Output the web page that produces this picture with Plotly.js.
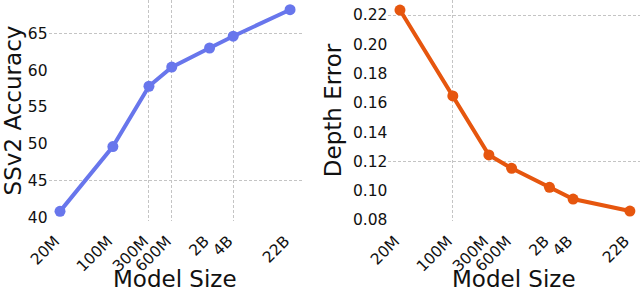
<!DOCTYPE html>
<html>
<head>
<meta charset="utf-8">
<script src="https://cdn.plot.ly/plotly-3.0.1.min.js"></script>
<style>html,body{margin:0;padding:0;background:#fff;}#chart{width:640px;height:291px;}</style>
</head>
<body>
<div id="chart"></div>
<script>
// Model sizes (parameters) and tick labels
var modelSizes = [20e6, 100e6, 300e6, 600e6, 1.9e9, 3.9e9, 22e9];
var sizeLabels = ["20M", "100M", "300M", "600M", "2B", "4B", "22B"];
// SSv2 accuracy (left panel)
var ssv2Accuracy = [40.8, 49.6, 57.8, 60.4, 63.0, 64.6, 68.2];
// Depth error (right panel)
var depthError = [0.2234, 0.1647, 0.1244, 0.1153, 0.1023, 0.0943, 0.0861];
var xTitle = "Model Size";

var blue = "rgb(104,118,236)";
var orange = "rgb(230,86,14)";
var FONT = "DejaVu Sans";

var traces = [
  {x: modelSizes, y: ssv2Accuracy, type: "scatter", mode: "lines+markers",
   xaxis: "x", yaxis: "y", line: {color: blue, width: 4},
   marker: {color: blue, size: 11}, showlegend: false, hoverinfo: "none"},
  {x: modelSizes, y: depthError, type: "scatter", mode: "lines+markers",
   xaxis: "x2", yaxis: "y2", line: {color: orange, width: 4},
   marker: {color: orange, size: 11}, showlegend: false, hoverinfo: "none"}
];

function xAxis(domain, range, gridVals) {
  return {
    type: "log", domain: domain, range: range,
    tickvals: modelSizes, ticktext: sizeLabels, tickangle: -45,
    tickfont: {family: FONT, size: 15.5, color: "#111"},
    showgrid: false, zeroline: false, showline: false, ticks: "",
    ticklabelstandoff: 7, ticklabelshift: -5,
    minor: {tickvals: gridVals, showgrid: true, gridcolor: "#c4c4c4", griddash: "3px,2px", gridwidth: 1, ticks: ""}
  };
}
function yAxis(domain, range, tickVals, tickText, gridVals, titleText) {
  return {
    domain: domain, range: range,
    tickvals: tickVals, ticktext: tickText,
    tickfont: {family: FONT, size: 15.5, color: "#111"},
    showgrid: false, zeroline: false, showline: false, ticks: "",
    ticklabelstandoff: 0,
    minor: {tickvals: gridVals, showgrid: true, gridcolor: "#c4c4c4", griddash: "3px,2px", gridwidth: 1, ticks: ""},
    title: {text: titleText, font: {family: FONT, size: 23, color: "#111"}, standoff: 4}
  };
}

var xDom1 = [0.0758, 0.4711], xDom2 = [0.607, 1];
var layout = {
  width: 640, height: 291,
  margin: {l: 0, r: 0, t: 0, b: 0},
  paper_bgcolor: "#fff", plot_bgcolor: "#fff",
  showlegend: false,
  xaxis: xAxis(xDom1, [7.149, 10.494], [300e6, 600e6, 3.9e9]),
  xaxis2: xAxis(xDom2, [7.149, 10.476], [100e6]),
  yaxis: yAxis([0.2405, 1], [39.49, 69.52], [40, 45, 50, 55, 60, 65],
               ["40", "45", "50", "55", "60", "65"], [45, 65], "SSv2 Accuracy"),
  yaxis2: yAxis([0.2405, 1], [0.0793, 0.23025], [0.08, 0.10, 0.12, 0.14, 0.16, 0.18, 0.20, 0.22],
                ["0.08", "0.10", "0.12", "0.14", "0.16", "0.18", "0.20", "0.22"], [0.12, 0.22], "Depth Error"),
  annotations: [xDom1, xDom2].map(function (d) {
    return {text: xTitle, xref: "paper", yref: "paper", x: (d[0] + d[1]) / 2, y: 0,
            xanchor: "center", yanchor: "bottom", yshift: -2, showarrow: false, borderpad: 0,
            font: {family: FONT, size: 23, color: "#111"}};
  })
};
layout.yaxis2.anchor = "x2";
layout.xaxis2.anchor = "y2";

Plotly.newPlot("chart", traces, layout, {staticPlot: true, displayModeBar: false});
</script>
</body>
</html>
